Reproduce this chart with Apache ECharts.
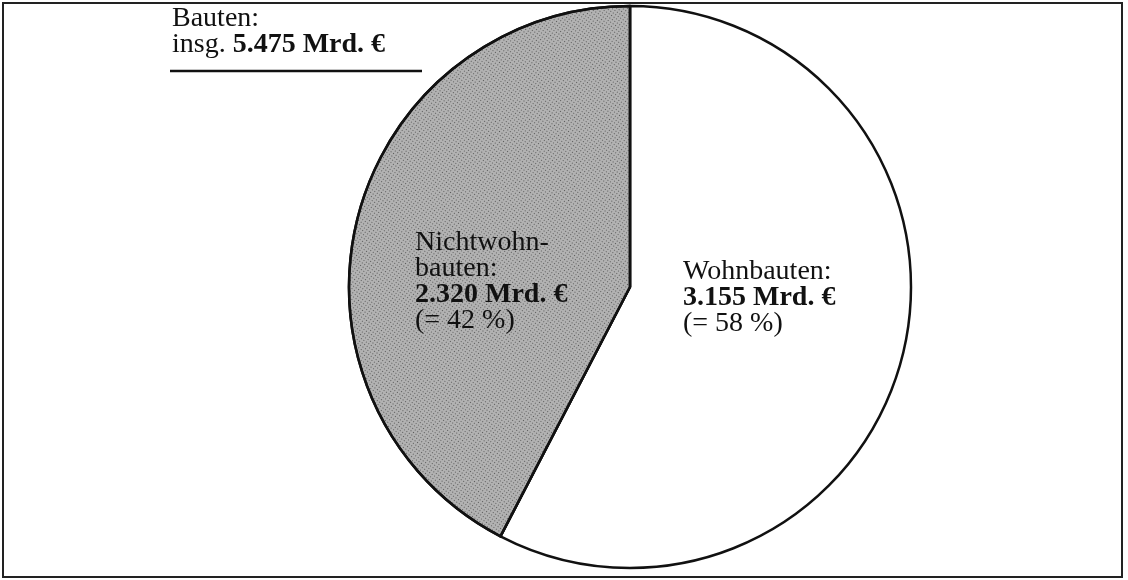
<!DOCTYPE html>
<html>
<head>
<meta charset="utf-8">
<script src="https://cdn.jsdelivr.net/npm/echarts@6/dist/echarts.min.js"></script>
<style>
  html, body { margin: 0; padding: 0; background: #fff; }
  #main { width: 1128px; height: 580px; }
</style>
</head>
<body>
<div id="main"></div>
<script>
// Werte in Mrd. Euro
var kategorien = ['Wohnbauten', 'Nichtwohnbauten'];
var werte = [3.155, 2.320];
var anteile = [58, 42];
var gesamt = 5.475;

function fmt(v) {
    return v.toFixed(3);
}

var myChart = echarts.init(document.getElementById('main'));

var schrift = '"Liberation Serif", "Times New Roman", serif';
var gr = 28;

var option = {
    backgroundColor: '#fff',
    animation: false,
    textStyle: { fontFamily: schrift },
    series: [
        {
            name: 'Bauten',
            type: 'pie',
            center: [630, 287],
            radius: 281,
            startAngle: 90,
            clockwise: true,
            label: { show: false },
            labelLine: { show: false },
            itemStyle: {
                borderColor: '#111',
                borderWidth: 2.5
            },
            data: [
                { name: kategorien[0], value: werte[0], itemStyle: { color: '#ffffff' } },
                {
                    name: kategorien[1], value: werte[1],
                    itemStyle: {
                        color: '#b2b2b2',
                        decal: {
                            symbol: 'rect',
                            symbolSize: 1,
                            dashArrayX: [1, 2],
                            dashArrayY: [1, 2],
                            rotation: 0.6,
                            color: 'rgba(30,30,30,0.6)'
                        }
                    }
                }
            ]
        }
    ],
    graphic: [
        {
            type: 'rect',
            z: 100,
            shape: { x: 3, y: 3, width: 1119, height: 574 },
            style: { fill: null, stroke: '#222', lineWidth: 2 },
            silent: true
        },
        {
            type: 'text',
            z: 100,
            left: 172, top: 5,
            style: {
                text: 'Bauten:\ninsg. {b|' + fmt(gesamt) + ' Mrd. €}',
                font: gr + 'px ' + schrift,
                lineHeight: 26,
                fill: '#111',
                rich: {
                    b: { font: 'bold ' + gr + 'px ' + schrift, fill: '#111', lineHeight: 26 }
                }
            }
        },
        {
            type: 'line',
            z: 100,
            shape: { x1: 170, y1: 71, x2: 422, y2: 71 },
            style: { stroke: '#111', lineWidth: 2.5 }
        },
        {
            type: 'text',
            z: 100,
            left: 415, top: 229,
            style: {
                text: 'Nichtwohn-\nbauten:\n{b|' + fmt(werte[1]) + ' Mrd. €}\n(= ' + anteile[1] + ' %)',
                font: gr + 'px ' + schrift,
                lineHeight: 26,
                fill: '#111',
                rich: {
                    b: { font: 'bold ' + gr + 'px ' + schrift, fill: '#111', lineHeight: 26 }
                }
            }
        },
        {
            type: 'text',
            z: 100,
            left: 683, top: 258,
            style: {
                text: 'Wohnbauten:\n{b|' + fmt(werte[0]) + ' Mrd. €}\n(= ' + anteile[0] + ' %)',
                font: gr + 'px ' + schrift,
                lineHeight: 26,
                fill: '#111',
                rich: {
                    b: { font: 'bold ' + gr + 'px ' + schrift, fill: '#111', lineHeight: 26 }
                }
            }
        }
    ]
};

myChart.setOption(option);
</script>
</body>
</html>
